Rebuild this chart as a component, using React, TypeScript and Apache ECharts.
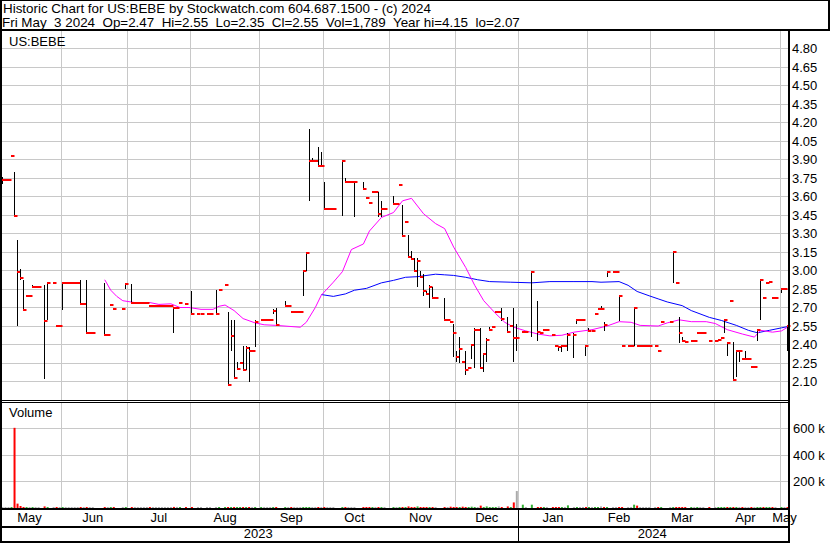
import React, { useEffect, useRef } from "react";
import * as echarts from "echarts";

const FONT = "'Liberation Sans', Arial, Helvetica, sans-serif";

// doubled gap between header fields (non-collapsing space + normal space)
const GAP = "\u00a0 ";
const HEADER_LINE_1 = "Historic Chart for US:BEBE by Stockwatch.com 604.687.1500 - (c) 2024";
const HEADER_LINE_2_PARTS = ["Fri May", "3 2024", "Op=2.47", "Hi=2.55", "Lo=2.35", "Cl=2.55", "Vol=1,789", "Year hi=4.15", "lo=2.07"];
const SYMBOL_LABEL = "US:BEBE";
const VOLUME_LABEL = "Volume";

const FIRST_DAY = [2023, 4, 4]; // 2023-05-04, first weekday shown
const DAY_COUNT = 262; // weekdays up to 2024-05-03
const MONTH_NAMES = ["Jan", "Feb", "Mar", "Apr", "May", "Jun", "Jul", "Aug", "Sep", "Oct", "Nov", "Dec"];

// price axis
const PRICE_MIN = 1.95;
const PRICE_MAX = 4.95;
const PRICE_STEP = 0.15;
const PRICE_LABEL_LOW = 2.1;
const PRICE_LABEL_HIGH = 4.8;
// volume axis
const VOL_MAX = 800000;
const VOL_STEP = 200000;

// daily close per weekday (null = no trade)
const CLOSE: (number | null)[] = [
  3.73, 3.73, 3.73, 3.93, 3.44, 2.99, 2.94, 2.68, 2.79, 2.79,
  2.87, 2.87, 2.87, null, 2.59, 2.90, null, 2.90, 2.55, 2.55,
  2.90, 2.90, 2.90, 2.90, 2.90, 2.90, 2.73, 2.73, 2.49, 2.49,
  2.49, null, null, null, 2.48, 2.48, 2.72, 2.69, null, null,
  2.69, 2.89, null, 2.74, 2.74, 2.74, 2.74, 2.74, 2.74, 2.71,
  2.71, 2.71, 2.71, 2.71, 2.71, 2.71, 2.71, 2.70, 2.70, 2.74,
  null, 2.73, null, 2.65, null, 2.65, 2.65, null, 2.65, 2.65,
  null, 2.65, 2.84, null, 2.88, 2.07, 2.47, 2.13, 2.20, 2.25,
  2.19, 2.37, 2.35, 2.35, 2.58, null, 2.60, 2.60, 2.60, 2.60,
  2.67, 2.56, null, null, 2.71, 2.71, 2.66, 2.66, 2.66, 2.66,
  3.00, 3.14, 3.89, 3.89, 3.89, 3.85, 3.85, 3.50, 3.50, 3.50,
  3.50, null, null, 3.89, 3.72, 3.72, 3.72, 3.72, null, null,
  3.66, 3.59, 3.55, 3.64, 3.64, 3.46, 3.50, 3.50, null, null,
  3.54, 3.54, 3.69, 3.28, 3.39, 3.11, 3.09, 3.00, 3.08, 2.95,
  2.83, 2.81, 2.87, 2.78, 2.78, null, null, 2.60, 2.60, 2.58,
  2.49, 2.30, 2.36, 2.26, 2.19, 2.21, 2.40, 2.52, 2.52, 2.21,
  2.32, 2.44, 2.52, 2.54, 2.66, 2.66, 2.61, null, 2.50, 2.55,
  2.45, 2.45, null, 2.50, 2.50, null, 2.99, null, 2.50, 2.49,
  2.52, 2.52, null, 2.48, 2.39, 2.38, 2.39, 2.39, 2.48, null,
  2.48, 2.60, 2.60, 2.60, 2.39, 2.51, 2.51, 2.65, 2.69, 2.69,
  2.56, 2.99, null, 2.99, 2.99, 2.79, 2.39, null, 2.39, 2.39,
  2.70, 2.39, 2.39, 2.39, 2.39, 2.39, null, 2.39, 2.35, 2.58,
  null, null, 2.58, 3.15, 2.90, 2.49, 2.43, 2.42, null, 2.43,
  2.43, 2.49, 2.49, 2.49, null, 2.43, null, 2.43, 2.44, 2.45,
  2.60, 2.41, 2.75, 2.11, 2.35, 2.35, 2.28, 2.28, 2.28, 2.22,
  2.22, 2.52, 2.92, 2.78, 2.90, 2.91, 2.78, 2.78, null, 2.85,
  2.85, 2.55,
];

// days with a high-low range: [weekday index, high, low]
const RANGES: [number, number, number][] = [
  [0, 3.76, 3.70], [4, 3.80, 3.44], [5, 3.25, 2.55], [6, 3.01, 2.92], [7, 2.92, 2.68],
  [10, 2.88, 2.87], [14, 2.88, 2.12], [15, 2.90, 2.60], [20, 2.90, 2.68], [26, 2.92, 2.73],
  [28, 2.92, 2.49], [34, 2.90, 2.47], [41, 2.90, 2.85], [43, 2.89, 2.74], [57, 2.70, 2.49],
  [63, 2.83, 2.65], [71, 2.84, 2.65], [75, 2.66, 2.07], [76, 2.60, 2.35], [77, 2.60, 2.13],
  [78, 2.26, 2.20], [80, 2.39, 2.19], [81, 2.39, 2.19], [82, 2.38, 2.10], [84, 2.60, 2.38],
  [90, 2.69, 2.65], [91, 2.70, 2.56], [94, 2.75, 2.71], [100, 3.00, 2.79], [101, 3.15, 3.00],
  [102, 4.15, 3.56], [103, 3.91, 3.89], [105, 4.00, 3.85], [106, 3.96, 3.85], [107, 3.72, 3.50],
  [113, 3.90, 3.44], [114, 3.75, 3.72], [117, 3.72, 3.43], [120, 3.72, 3.66], [125, 3.64, 3.43],
  [126, 3.56, 3.43], [130, 3.60, 3.53], [133, 3.53, 3.28], [135, 3.29, 3.11], [136, 3.16, 3.09],
  [137, 3.10, 3.00], [138, 3.10, 2.87], [139, 3.00, 2.95], [140, 2.97, 2.79], [141, 2.83, 2.80],
  [142, 2.88, 2.70], [143, 2.87, 2.77], [147, 2.78, 2.60], [149, 2.59, 2.58], [150, 2.57, 2.30],
  [151, 2.35, 2.26], [152, 2.46, 2.25], [153, 2.27, 2.25], [154, 2.35, 2.15], [156, 2.40, 2.28],
  [157, 2.53, 2.21], [159, 2.53, 2.20], [160, 2.33, 2.18], [161, 2.45, 2.26], [162, 2.54, 2.51],
  [166, 2.70, 2.59], [168, 2.62, 2.49], [170, 2.70, 2.26], [171, 2.57, 2.35], [176, 2.99, 2.46],
  [178, 2.75, 2.43], [185, 2.39, 2.35], [186, 2.39, 2.34], [188, 2.49, 2.35], [190, 2.49, 2.29],
  [191, 2.60, 2.57], [194, 2.39, 2.31], [195, 2.53, 2.50], [199, 2.71, 2.69], [200, 2.58, 2.51],
  [201, 2.99, 2.95], [205, 2.79, 2.59], [210, 2.70, 2.39], [223, 3.15, 2.90], [225, 2.62, 2.41],
  [226, 2.46, 2.42], [240, 2.60, 2.49], [241, 2.42, 2.31], [243, 2.42, 2.11], [244, 2.35, 2.14],
  [245, 2.35, 2.26], [247, 2.35, 2.28], [251, 2.52, 2.43], [252, 2.93, 2.60], [259, 2.85, 2.82],
  [261, 2.55, 2.35],
];

// daily volume in thousands of shares (null = no trade)
const VOLUME_K: (number | null)[] = [
  3, 3, 3, 4, 605, 33, 15, 6, 3, 3,
  3, 3, 3, null, 12, 3, null, 3, 3, 3,
  4, 3, 3, 3, 3, 3, 3, 3, 4, 3,
  3, null, null, null, 4, 3, 3, 3, null, null,
  3, 3, null, 3, 3, 3, 3, 3, 3, 3,
  3, 3, 3, 3, 3, 3, 3, 8, 8, 3,
  null, 3, null, 3, null, 3, 3, null, 3, 3,
  null, 3, 3, null, 3, 4, 3, 4, 3, 3,
  3, 3, 3, 3, 3, null, 3, 3, 3, 3,
  3, 3, null, null, 3, 3, 3, 3, 3, 3,
  4, 3, 4, 3, 3, 3, 3, 3, 3, 3,
  3, null, null, 3, 3, 3, 3, 3, null, null,
  3, 3, 3, 3, 3, 3, 3, 3, null, null,
  3, 3, 3, 3, 3, 12, 3, 3, 12, 3,
  3, 3, 3, 3, 3, null, null, 3, 3, 10,
  3, 3, 3, 10, 3, 3, 10, 3, 3, 18,
  3, 12, 3, 3, 3, 12, 3, null, 12, 3,
  42, 128, null, 25, 3, null, 25, null, 3, 3,
  3, 3, null, 3, 3, 3, 3, 3, 20, null,
  3, 3, 3, 3, 3, 3, 3, 3, 3, 12,
  3, 3, null, 3, 3, 3, 3, null, 3, 3,
  25, 18, 3, 3, 3, 3, null, 3, 3, 3,
  null, null, 3, 3, 3, 3, 3, 3, null, 3,
  3, 3, 3, 3, null, 3, null, 3, 3, 3,
  3, 3, 3, 3, 3, 3, 3, 3, 3, 3,
  3, 3, 3, 3, 3, 3, 3, 3, null, 3,
  3, 1.789,
];

// moving averages at sample days
const MA_FAST_DAYS = [34, 36, 38, 40, 44, 49, 52, 56, 59, 62, 66, 70, 72, 74, 77, 80, 84, 87, 91, 99,
  101, 104, 106, 110, 113, 116, 120, 122, 126, 130, 133, 136, 140, 144, 147, 150, 154, 157, 160, 164,
  167, 170, 174, 178, 182, 186, 190, 196, 201, 205, 209, 212, 218, 221, 225, 229, 234, 237, 241, 246,
  250, 252, 256, 259, 261];
const MA_FAST = [2.925, 2.84, 2.79, 2.755, 2.74, 2.74, 2.725, 2.73, 2.70, 2.70, 2.685, 2.685, 2.71, 2.72, 2.675,
  2.61, 2.575, 2.56, 2.555, 2.54, 2.58, 2.70, 2.80, 2.905, 2.99, 3.17, 3.215, 3.32, 3.43, 3.47,
  3.565, 3.585, 3.46, 3.38, 3.34, 3.19, 3.025, 2.88, 2.755, 2.65, 2.58, 2.54, 2.51, 2.485, 2.47,
  2.475, 2.50, 2.52, 2.55, 2.585, 2.58, 2.555, 2.55, 2.575, 2.60, 2.585, 2.585, 2.57, 2.52, 2.485,
  2.46, 2.515, 2.50, 2.51, 2.54];
const MA_SLOW_DAYS = [106, 110, 114, 117, 121, 126, 130, 134, 138, 144, 147, 150, 154, 158, 162, 169, 176,
  182, 190, 196, 199, 205, 208, 211, 215, 218, 221, 226, 229, 235, 239, 244, 248, 251, 255, 259, 261];
const MA_SLOW = [2.805, 2.79, 2.81, 2.84, 2.855, 2.90, 2.92, 2.945, 2.95, 2.97, 2.965, 2.96, 2.945, 2.925,
  2.91, 2.905, 2.90, 2.91, 2.91, 2.91, 2.905, 2.91, 2.88, 2.83, 2.795, 2.77, 2.745, 2.715, 2.675, 2.62,
  2.595, 2.555, 2.515, 2.495, 2.515, 2.535, 2.545];

const COLORS = {
  grid: "#c8c8c8",
  frame: "#000000",
  bar: "#000000",
  closeTick: "#ff0000",
  maFast: "#ff00ff",
  maSlow: "#0000ff",
  volUp: "#33b033",
  volDown: "#ff0000",
  volFlat: "#aaaaaa",
  text: "#000000",
};

function buildDates(): string[] {
  const out: string[] = [];
  const d = new Date(Date.UTC(FIRST_DAY[0], FIRST_DAY[1], FIRST_DAY[2]));
  while (out.length < DAY_COUNT) {
    const wd = d.getUTCDay();
    if (wd !== 0 && wd !== 6) out.push(d.toISOString().slice(0, 10));
    d.setUTCDate(d.getUTCDate() + 1);
  }
  return out;
}

function buildOption() {
  const dates = buildDates();
  const n = dates.length;
  const monthKey = (s: string) => s.slice(0, 7);
  const monthStarts = new Set<number>([0]);
  const monthMids = new Set<number>();
  let runStart = 0;
  for (let i = 1; i <= n; i++) {
    if (i === n || monthKey(dates[i]) !== monthKey(dates[i - 1])) {
      monthMids.add(Math.floor((runStart + i - 1) / 2));
      if (i < n) monthStarts.add(i);
      runStart = i;
    }
  }
  const yearMids = new Set<number>();
  const yearStarts = new Set<number>([0]);
  runStart = 0;
  for (let i = 1; i <= n; i++) {
    if (i === n || dates[i].slice(0, 4) !== dates[i - 1].slice(0, 4)) {
      yearMids.add(Math.floor((runStart + i - 1) / 2));
      if (i < n) yearStarts.add(i);
      runStart = i;
    }
  }

  const rangeMap = new Map<number, [number, number]>();
  RANGES.forEach(([d, h, l]) => rangeMap.set(d, [h, l]));
  const ohlc: number[][] = [];
  CLOSE.forEach((c, i) => {
    if (c == null) return;
    const r = rangeMap.get(i);
    ohlc.push([i, r ? r[0] : c, r ? r[1] : c, c]);
  });

  let prev: number | null = null;
  const volData = VOLUME_K.map((v, i) => {
    const c = CLOSE[i];
    let color = COLORS.volFlat;
    if (c != null && prev != null) color = c > prev ? COLORS.volUp : c < prev ? COLORS.volDown : COLORS.volFlat;
    if (c != null) prev = c;
    if (v == null) return null;
    return { value: v * 1000, itemStyle: { color } };
  });

  const labelFont = { fontFamily: FONT, fontSize: 13, color: COLORS.text };
  const greySplit = (set: Set<number>) => ({
    show: true,
    interval: (i: number) => set.has(i),
    lineStyle: { color: COLORS.grid, width: 1 },
  });

  const baseX = {
    type: "category" as const,
    data: dates,
    boundaryGap: true,
    axisTick: { show: false },
    axisLine: { show: false, onZero: false },
  };

  const grids = [
    { left: 1, top: 30, width: 788, height: 370 },
    { left: 1, top: 402, width: 788, height: 106 },
    { left: 1, top: 509, width: 788, height: 18 },
    { left: 1, top: 527, width: 788, height: 15 },
  ].map((g) => ({ ...g, outerBoundsMode: "none", containLabel: false }));

  const frame = (x: number, y: number, w: number, h: number) => ({
    type: "rect",
    shape: { x, y, width: w, height: h },
    style: { fill: COLORS.frame },
    z: 100,
    silent: true,
  });
  const text = (t: string, x: number, y: number, size = 13) => ({
    type: "text",
    x,
    y,
    z: 101,
    silent: true,
    style: { text: t, fontFamily: FONT, fontSize: size, fill: COLORS.text, verticalAlign: "top", align: "left" },
  });

  return {
    animation: false,
    backgroundColor: "#ffffff",
    grid: grids,
    xAxis: [
      { ...baseX, gridIndex: 0, axisLabel: { show: false }, splitLine: greySplit(monthStarts) },
      { ...baseX, gridIndex: 1, axisLabel: { show: false }, splitLine: greySplit(monthStarts) },
      {
        ...baseX,
        gridIndex: 2,
        position: "top",
        axisLabel: {
          ...labelFont,
          inside: true,
          margin: 2,
          interval: (i: number) => monthMids.has(i),
          formatter: (v: string) => MONTH_NAMES[Number(v.slice(5, 7)) - 1],
        },
        splitLine: { show: true, interval: (i: number) => yearStarts.has(i), lineStyle: { color: COLORS.frame, width: 1 } },
      },
      {
        ...baseX,
        gridIndex: 3,
        position: "top",
        axisLabel: {
          ...labelFont,
          inside: true,
          margin: 0,
          interval: (i: number) => yearMids.has(i),
          formatter: (v: string) => v.slice(0, 4),
        },
        splitLine: { show: true, interval: (i: number) => yearStarts.has(i), lineStyle: { color: COLORS.frame, width: 1 } },
      },
    ],
    yAxis: [
      {
        type: "value",
        gridIndex: 0,
        position: "right",
        min: PRICE_MIN,
        max: PRICE_MAX,
        interval: PRICE_STEP,
        axisLine: { show: false },
        axisTick: { show: false },
        splitLine: { show: true, lineStyle: { color: COLORS.grid, width: 1 } },
        axisLabel: {
          ...labelFont,
          margin: 3,
          showMinLabel: true,
          showMaxLabel: true,
          formatter: (v: number) =>
            v < PRICE_LABEL_LOW - 0.001 || v > PRICE_LABEL_HIGH + 0.001 ? "" : v.toFixed(2),
        },
      },
      {
        type: "value",
        gridIndex: 1,
        position: "right",
        min: 0,
        max: VOL_MAX,
        interval: VOL_STEP,
        axisLine: { show: false },
        axisTick: { show: false },
        splitLine: { show: true, lineStyle: { color: COLORS.grid, width: 1 } },
        axisLabel: {
          ...labelFont,
          margin: 4,
          formatter: (v: number) => (v <= 0 || v >= VOL_MAX ? "" : `${v / 1000} k`),
        },
      },
      { type: "value", gridIndex: 2, show: false },
      { type: "value", gridIndex: 3, show: false },
    ],
    series: [
      {
        type: "line",
        xAxisIndex: 0,
        yAxisIndex: 0,
        data: MA_SLOW_DAYS.map((d, k) => [d, MA_SLOW[k]]),
        symbol: "none",
        lineStyle: { color: COLORS.maSlow, width: 1 },
        silent: true,
        z: 2,
      },
      {
        type: "line",
        xAxisIndex: 0,
        yAxisIndex: 0,
        data: MA_FAST_DAYS.map((d, k) => [d, MA_FAST[k]]),
        symbol: "none",
        lineStyle: { color: COLORS.maFast, width: 1 },
        silent: true,
        z: 2,
      },
      {
        type: "custom",
        xAxisIndex: 0,
        yAxisIndex: 0,
        data: ohlc,
        silent: true,
        z: 3,
        renderItem: (_params: any, api: any) => {
          const i = api.value(0);
          const top = api.coord([i, api.value(1)]);
          const bot = api.coord([i, api.value(2)]);
          const cl = api.coord([i, api.value(3)]);
          const x = Math.floor(top[0]) + 0.5;
          const yc = Math.round(cl[1]);
          const children: any[] = [];
          if (bot[1] - top[1] >= 0.5) {
            children.push({
              type: "line",
              shape: { x1: x, y1: Math.round(top[1]), x2: x, y2: Math.round(bot[1]) },
              style: { stroke: COLORS.bar, lineWidth: 1 },
            });
          }
          children.push({
            type: "rect",
            shape: { x: x - 0.5, y: yc - 1, width: 3.5, height: 2 },
            style: { fill: COLORS.closeTick },
          });
          return { type: "group", children };
        },
      },
      {
        type: "bar",
        xAxisIndex: 1,
        yAxisIndex: 1,
        data: volData,
        barWidth: 2,
        barMinHeight: 1,
        silent: true,
      },
    ],
    graphic: [
      text(HEADER_LINE_1, 3, 2, 13.4),
      text(HEADER_LINE_2_PARTS.join(GAP), 2, 16, 13.4),
      text(SYMBOL_LABEL, 9, 35),
      text(VOLUME_LABEL, 9, 406),
      frame(0, 0, 830, 1),
      frame(828, 0, 2, 31),
      frame(0, 29, 830, 2),
      frame(0, 0, 2, 543),
      frame(788, 30, 2, 513),
      frame(0, 400, 790, 1),
      frame(0, 402, 790, 1),
      frame(0, 508, 790, 2),
      frame(0, 526, 790, 2),
      frame(0, 541, 790, 2),
    ],
  };
}

export default function App() {
  const ref = useRef<HTMLDivElement>(null);
  useEffect(() => {
    if (!ref.current) return;
    const chart = echarts.init(ref.current, undefined, { renderer: "svg" });
    chart.setOption(buildOption() as any);
    return () => chart.dispose();
  }, []);
  return (
    <div
      ref={ref}
      style={{ position: "fixed", left: 0, top: 0, width: 830, height: 543, background: "#fff" }}
    />
  );
}
